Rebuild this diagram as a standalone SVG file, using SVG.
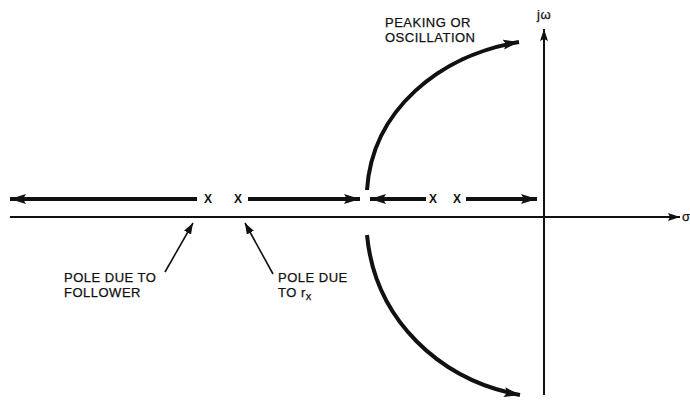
<svg xmlns="http://www.w3.org/2000/svg" width="690" height="401" viewBox="0 0 690 401">
<style>
.t{font-family:"Liberation Sans",Arial,sans-serif;font-size:13px;fill:#111;letter-spacing:0.5px;stroke:#111;stroke-width:0.25}
.x{font-family:"Liberation Sans",Arial,sans-serif;font-size:12px;font-weight:bold;fill:#111}
.thick{stroke:#111;stroke-width:4;fill:none}
.axis{stroke:#111;stroke-width:2;fill:none}
.thin{stroke:#111;stroke-width:1.6;fill:none}
</style>
<defs>
<marker id="ah" markerUnits="userSpaceOnUse" markerWidth="20" markerHeight="12" refX="16" refY="5" orient="auto">
<path d="M0,0 L16,5 L0,10 L3,5 Z" fill="#111"/>
</marker>
<marker id="ahs" markerUnits="userSpaceOnUse" markerWidth="16" markerHeight="10" refX="12" refY="4" orient="auto">
<path d="M0,0 L12,4 L0,8 L2,4 Z" fill="#111"/>
</marker>
<marker id="pt" markerUnits="userSpaceOnUse" markerWidth="14" markerHeight="10" refX="11" refY="4" orient="auto">
<path d="M0,0 L11,4 L0,8 Z" fill="#111"/>
</marker>
</defs>
<g id="axes">
<line class="axis" x1="10" y1="217" x2="680" y2="217" marker-end="url(#ahs)"/>
<line class="axis" x1="544" y1="395" x2="544" y2="29" marker-end="url(#ahs)"/>
<text class="t" x="537" y="19">jω</text>
<text class="t" x="682" y="221">σ</text>
</g>
<g id="poles">
<text class="x" x="204" y="203">X</text>
<text class="x" x="234" y="203">X</text>
<text class="x" x="429" y="203">X</text>
<text class="x" x="453" y="203">X</text>
</g>
<g id="connectors">
<line class="thick" x1="197" y1="199" x2="10" y2="199" marker-end="url(#ah)"/>
<line class="thick" x1="248" y1="199" x2="360" y2="199" marker-end="url(#ah)"/>
<line class="thick" x1="426" y1="199" x2="370" y2="199" marker-end="url(#ah)"/>
<line class="thick" x1="466" y1="199" x2="537" y2="199" marker-end="url(#ah)"/>
<path class="thick" d="M367,190 C372,110 440,55 519,42" marker-end="url(#ah)"/>
<path class="thick" d="M367,235 C375,320 440,380 520,395" marker-end="url(#ah)"/>
<line class="thin" x1="165" y1="272" x2="193" y2="223" marker-end="url(#pt)"/>
<line class="thin" x1="273" y1="274" x2="245" y2="223" marker-end="url(#pt)"/>
</g>
<g id="labels">
<text class="t" x="64" y="282">POLE DUE TO</text>
<text class="t" x="64" y="297">FOLLOWER</text>
<text class="t" x="278" y="282">POLE DUE</text>
<text class="t" x="278" y="297">TO r<tspan font-size="11" dy="3">x</tspan></text>
<text class="t" x="385" y="27">PEAKING OR</text>
<text class="t" x="385" y="42">OSCILLATION</text>
</g>
</svg>
